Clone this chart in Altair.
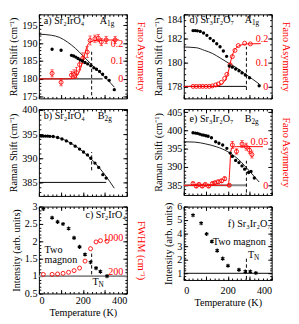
import altair as alt
import pandas as pd

FONT = "Liberation Serif"
RED = "#ff0000"
GRAY = "#8a8a8a"
FS = 10.5
MAJ, MIN = 4, 2
W = 91
STAR = "M0,-1L0,1M-0.866,-0.5L0.866,0.5M-0.866,0.5L0.866,-0.5"

X_MAJOR = [0, 100, 200, 300, 400]
X_MINOR = list(range(0, 401, 20))

# ---------------- data ----------------
# a) Sr2IrO4 A1g
a_T = [60, 101, 148, 158, 168, 178, 188, 198, 210, 222, 236, 250, 262, 276, 290, 305, 320, 343]
a_R = [188.3, 188.0, 186.6, 186.4, 186.1, 185.7, 185.3, 185.0, 184.6, 184.2, 183.7, 183.1, 182.7, 182.1, 181.3, 180.4, 179.6, 177.0]
a_fitT = [0, 57, 94, 130, 167, 203, 240, 277, 313, 343]
a_fitR = [192.5, 192.2, 191.6, 190.3, 188.5, 186.3, 184.0, 181.8, 179.7, 177.7]
a_qT = [60, 101, 148, 160, 171, 185, 200, 220, 233, 255, 270, 284, 306, 347]
a_q = [0.031, -0.019, 0.021, 0.026, 0.035, 0.08, 0.116, 0.15, 0.215, 0.225, 0.228, 0.206, 0.218, 0.218]
a_qerr = [0.02, 0.02, 0.02, 0.025, 0.03, 0.03, 0.03, 0.03, 0.025, 0.02, 0.02, 0.02, 0.02, 0.02]
a_qfitT = [0, 130, 160, 180, 190, 200, 210, 220, 232, 250, 280, 365]
a_qfit = [0, 0, 0.005, 0.03, 0.06, 0.1, 0.145, 0.185, 0.205, 0.213, 0.217, 0.218]

# b) Sr2IrO4 B2g
b_T = [10, 20, 30, 40, 50, 65, 85, 105, 125, 145, 165, 185, 203, 221, 236, 255, 272, 291, 306]
b_R = [394.6, 394.6, 394.6, 394.6, 394.55, 394.5, 394.3, 394.0, 393.6, 393.1, 392.5, 391.9, 391.3, 390.7, 390.0, 389.0, 388.1, 386.6, 385.9]
b_fitT = [0, 50, 100, 150, 200, 250, 300, 343]
b_fitR = [394.6, 394.55, 394.1, 393.0, 391.4, 389.3, 386.6, 383.8]

# c) Sr2IrO4 two magnon
c_T = [20, 60, 85, 110, 135, 160, 185, 210, 235, 260, 280, 310]
c_I = [2.93, 2.68, 2.56, 2.50, 2.37, 2.10, 1.84, 1.62, 1.40, 1.23, 1.13, 1.00]
c_W = [125, 125, 135, 150, 175, 215, 275, 440, 735, 895, 925, 910]

# d) Sr3Ir2O7 A1g
d_T = [42, 52, 62, 75, 90, 105, 120, 135, 150, 165, 180, 195, 207, 221, 236, 251, 265, 280, 299, 343]
d_R = [182.65, 182.65, 182.63, 182.58, 182.45, 182.25, 182.0, 181.8, 181.55, 181.3, 180.95, 180.5, 179.7, 179.6, 179.45, 179.3, 179.12, 178.95, 178.72, 178.05]
d_fitT = [0, 57, 94, 130, 167, 203, 240, 277, 313, 343]
d_fitR = [181.28, 181.22, 181.0, 180.75, 180.35, 179.95, 179.55, 179.07, 178.6, 178.2]
d_qT = [42, 57, 72, 86, 101, 116, 130, 145, 157, 171, 186, 196, 211, 221, 233, 248, 277, 303]
d_q = [0, 0, 0, 0, 0, 0, 0.002, 0.006, 0.01, 0.017, 0.033, 0.05, 0.09, 0.124, 0.15, 0.17, 0.18, 0.177]
d_qfitT = [0, 140, 160, 180, 195, 205, 215, 225, 240, 260, 290, 350]
d_qfit = [0, 0, 0.004, 0.015, 0.04, 0.07, 0.11, 0.14, 0.162, 0.172, 0.177, 0.178]

# e) Sr3Ir2O7 B2g
e_T = [42, 53, 62, 72, 82, 91, 101, 111, 126, 145, 160, 177, 196, 211, 221, 236, 251, 265, 277, 295, 306, 321]
e_R = [399.35, 399.27, 399.2, 399.0, 398.8, 398.7, 398.55, 398.4, 398.0, 396.9, 396.5, 396.0, 395.1, 393.8, 392.9, 391.8, 391.2, 390.3, 389.4, 388.5, 388.8, 387.0]
e_fitT = [0, 50, 100, 150, 200, 250, 300, 343]
e_fitR = [396.9, 396.8, 396.3, 395.5, 394.2, 392.0, 388.8, 385.9]
e_qT = [42, 57, 69, 84, 98, 113, 130, 142, 157, 172, 186, 207, 221, 240, 265, 284, 299, 310]
e_q = [0.002, -0.001, 0.001, -0.001, 0.001, -0.001, 0.002, 0.003, 0.004, 0.005, 0.0075, 0.0, 0.046, 0.0385, 0.047, 0.044, 0.040, 0.035]
e_qerr = [0.0015, 0.0015, 0.0015, 0.0015, 0.0015, 0.0015, 0.0015, 0.0015, 0.002, 0.002, 0.002, 0.0015, 0.004, 0.003, 0.004, 0.004, 0.004, 0.004]
e_qfitT = [0, 200, 206, 210, 214, 220, 240, 360]
e_qfit = [0, 0, 0.006, 0.022, 0.038, 0.043, 0.044, 0.044]

# f) Sr3Ir2O7 two magnon
f_T = [42, 79, 104, 128, 152, 177, 201, 251, 280, 303, 328]
f_I = [5.35, 4.75, 3.95, 3.38, 2.7, 2.1, 1.57, 1.26, 1.13, 1.13, 1.02]

TN_214 = 240
TN_327 = 285

# axis domains
A_DOM = [174.55, 198.05]
A_QDOM = [(A_DOM[0] - 180) / 50, (A_DOM[1] - 180) / 50]
B_DOM = [382.2, 400.2]
C_DOM = [0.5, 3.0]
C_WDOM = [200 + (C_DOM[0] - 1.14) * 824.7, 200 + (C_DOM[1] - 1.14) * 824.7]
D_DOM = [177.0, 184.0]
D_QDOM = [(D_DOM[0] - 178) / 20, (D_DOM[1] - 178) / 20]
E_DOM = [382.35, 405.85]
E_QDOM = [(E_DOM[0] - 385) / 240, (E_DOM[1] - 385) / 240]
F_DOM = [0.5, 6.0]

RAMAN = "Raman Shift (cm⁻¹)"
INTENS = "Intensity (arb. units)"


# ---------------- helpers ----------------
def S(dom):
    return alt.Scale(domain=dom, nice=False, zero=False)


XS = S([0, 400])
TICK = dict(domain=False, grid=False, tickColor="black", tickWidth=1)


def X():
    return alt.X("T:Q", scale=XS, axis=None)


def Yf(field, dom):
    return alt.Y(f"{field}:Q", scale=S(dom), axis=None)


def frame(ydom, ymaj, ymin, ytitle, xlabels=False, xpad=2, yflush=False):
    dummy = pd.DataFrame({"x": [0.0], "y": [float(ydom[0])]})
    base = alt.Chart(dummy).mark_point(opacity=0)
    ys = S(ydom)
    if xlabels:
        xa = alt.Axis(orient="bottom", values=X_MAJOR, offset=-MAJ, tickSize=MAJ,
                      labelPadding=xpad, title="Temperature (K)", titlePadding=2, **TICK)
    else:
        xa = alt.Axis(orient="bottom", values=X_MAJOR, offset=-MAJ, tickSize=MAJ,
                      labels=False, title=None, **TICK)
    ykw = dict(orient="left", values=ymaj, offset=-MAJ, tickSize=MAJ, labelPadding=2,
               format="~g", title=ytitle, titlePadding=3, **TICK)
    if yflush:
        ykw["labelFlush"] = 1
    l1 = base.encode(x=alt.X("x:Q", scale=XS, axis=xa),
                     y=alt.Y("y:Q", scale=ys, axis=alt.Axis(**ykw)))
    l2 = base.encode(
        x=alt.X("x:Q", scale=XS, axis=alt.Axis(orient="bottom", values=X_MINOR, offset=-MIN,
                                               tickSize=MIN, labels=False, title=None, **TICK)),
        y=alt.Y("y:Q", scale=ys, axis=alt.Axis(orient="left", values=ymin, offset=-MIN,
                                               tickSize=MIN, labels=False, title=None, **TICK)))
    l3 = base.encode(
        x=alt.X("x:Q", scale=XS, axis=alt.Axis(orient="top", values=X_MAJOR, offset=-MAJ,
                                               tickSize=MAJ, labels=False, title=None, **TICK)),
        y=alt.Y("y:Q", scale=ys, axis=alt.Axis(orient="right", values=ymaj, offset=-MAJ,
                                               tickSize=MAJ, labels=False, title=None, **TICK)))
    l4 = base.encode(
        x=alt.X("x:Q", scale=XS, axis=alt.Axis(orient="top", values=X_MINOR, offset=-MIN,
                                               tickSize=MIN, labels=False, title=None, **TICK)),
        y=alt.Y("y:Q", scale=ys, axis=alt.Axis(orient="right", values=ymin, offset=-MIN,
                                               tickSize=MIN, labels=False, title=None, **TICK)))
    return [l1, l2, l3, l4]


def dots(T, V, dom):
    return alt.Chart(pd.DataFrame({"T": T, "V": V})).mark_circle(
        color="black", size=12, opacity=1).encode(x=X(), y=Yf("V", dom))


def stars(T, V, dom):
    return alt.Chart(pd.DataFrame({"T": T, "V": V})).mark_point(
        shape=STAR, filled=False, color="black", strokeWidth=1.2, size=18, opacity=1
    ).encode(x=X(), y=Yf("V", dom))


def curve(T, V, dom, color="black", width=0.9):
    return alt.Chart(pd.DataFrame({"T": T, "V": V})).mark_line(
        color=color, strokeWidth=width, interpolate="monotone").encode(x=X(), y=Yf("V", dom))


def hline(v, t0, t1, dom, color="black", width=1.0):
    return alt.Chart(pd.DataFrame({"T": [t0], "T2": [t1], "V": [v]})).mark_rule(
        color=color, strokeWidth=width).encode(x=X(), x2="T2:Q", y=Yf("V", dom))


def vdash(t, v0, v1, dom):
    return alt.Chart(pd.DataFrame({"T": [t], "V": [v0], "V2": [v1]})).mark_rule(
        color="black", strokeWidth=1, strokeDash=[3.5, 2.5]).encode(x=X(), y=Yf("V", dom), y2="V2:Q")


def red_axis(vals, title, fmt="~g"):
    return alt.Axis(orient="right", values=vals, format=fmt, ticks=False, domain=False,
                    grid=False, labelAlign="right", labelPadding=-4, labelColor=RED,
                    title=title, titleColor=RED, titlePadding=9)


def red_pts(T, V, dom, axis):
    return alt.Chart(pd.DataFrame({"T": T, "V": V})).mark_point(
        shape="circle", filled=False, color=RED, size=17, strokeWidth=0.9, opacity=1
    ).encode(x=X(), y=alt.Y("V:Q", scale=S(dom), axis=axis))


def red_err(T, V, E, dom):
    df = pd.DataFrame({"T": T,
                       "lo": [v - e for v, e in zip(V, E)],
                       "hi": [v + e for v, e in zip(V, E)]})
    bar = alt.Chart(df).mark_rule(color=RED, strokeWidth=0.8).encode(
        x=X(), y=Yf("lo", dom), y2="hi:Q")
    caps = alt.Chart(df).transform_fold(["lo", "hi"], as_=["k", "V"]).mark_tick(
        orient="horizontal", color=RED, size=3.5, thickness=0.8).encode(x=X(), y=Yf("V", dom))
    return [bar, caps]


def txt(T, V, s, dom, align="left", color="black", size=FS, dx=0, dy=0):
    return alt.Chart(pd.DataFrame({"T": [T], "V": [V], "s": [s]})).mark_text(
        align=align, baseline="middle", font=FONT, fontSize=size, color=color, dx=dx, dy=dy
    ).encode(x=X(), y=Yf("V", dom), text="s:N")


def sub_label(T, V, main, sub, dom, dxs):
    return [txt(T, V, main, dom), txt(T, V, sub, dom, size=7.5, dx=dxs, dy=3)]


def panel(ydom, ymaj, ymin, ytitle, height, layers, xlabels=False, xpad=2, yflush=False):
    flat = []
    for l in layers:
        if isinstance(l, list):
            flat.extend(l)
        else:
            flat.append(l)
    return alt.layer(*frame(ydom, ymaj, ymin, ytitle, xlabels, xpad, yflush), *flat).resolve_scale(
        y="independent").resolve_axis(x="independent", y="independent").properties(width=W, height=height)


# ---------------- panels ----------------
pa = panel(A_DOM, [175, 180, 185, 190, 195], list(range(175, 199)), RAMAN, 87, [
    hline(180, 0, 290, A_DOM),
    vdash(TN_214, 175.4, 187.6, A_DOM),
    curve(a_fitT, a_fitR, A_DOM),
    curve(a_qfitT, a_qfit, A_QDOM, RED, 1.0),
    red_err(a_qT, a_q, a_qerr, A_QDOM),
    red_pts(a_qT, a_q, A_QDOM, red_axis([0, 0.1, 0.2], "Fano Asymmetry")),
    dots(a_T, a_R, A_DOM),
    txt(22, 196.2, "a) Sr₂IrO₄", A_DOM),
    sub_label(277, 196.2, "A", "1g", A_DOM, 7.6),
])

pb = panel(B_DOM, [385, 390, 395, 400], list(range(383, 401)), RAMAN, 90, [
    hline(385, 0, 306, B_DOM),
    vdash(TN_214, 387.5, 391.3, B_DOM),
    curve(b_fitT, b_fitR, B_DOM),
    dots(b_T, b_R, B_DOM),
    txt(22, 398.8, "b) Sr₂IrO₄", B_DOM),
    sub_label(268, 398.8, "B", "2g", B_DOM, 7.0),
])

pc = panel(C_DOM, [0.5, 1, 1.5, 2, 2.5, 3], [round(0.5 + 0.1 * i, 2) for i in range(26)], INTENS, 90, [
    hline(1, 0, 400, C_DOM, GRAY, 2.0),
    vdash(TN_214, 1.05, 1.72, C_DOM),
    red_pts(c_T, c_W, C_WDOM, red_axis([200, 1000], "FWHM (cm⁻¹)", "d")),
    stars(c_T, c_I, C_DOM),
    txt(396, 2.75, "c) Sr₂IrO₄", C_DOM, align="right"),
    txt(26, 1.75, "Two", C_DOM),
    txt(26, 1.47, "magnon", C_DOM),
    sub_label(244, 0.84, "T", "N", C_DOM, 6.2),
], xlabels=True, xpad=2)

pd_ = panel(D_DOM, [178, 180, 182, 184], [177 + 0.5 * i for i in range(15)], RAMAN, 87, [
    hline(178, 0, TN_327, D_DOM),
    vdash(TN_327, 177.7, 181.3, D_DOM),
    curve(d_fitT, d_fitR, D_DOM),
    curve(d_qfitT, d_qfit, D_QDOM, RED, 1.0),
    red_pts(d_qT, d_q, D_QDOM, red_axis([0, 0.1, 0.2], "Fano Asymmetry")),
    dots(d_T, d_R, D_DOM),
    txt(26, 183.55, "d) Sr₃Ir₂O₇", D_DOM),
    sub_label(277, 183.55, "A", "1g", D_DOM, 7.6),
], yflush=True)

pe = panel(E_DOM, [385, 390, 395, 400, 405], list(range(383, 406)), RAMAN, 89, [
    hline(385, 0, TN_327, E_DOM, GRAY, 2.0),
    vdash(TN_327, 383.0, 391.7, E_DOM),
    curve(e_fitT, e_fitR, E_DOM),
    curve(e_qfitT, e_qfit, E_QDOM, RED, 1.0),
    red_err(e_qT, e_q, e_qerr, E_QDOM),
    red_pts(e_qT, e_q, E_QDOM, red_axis([0, 0.05], "Fano Asymmetry")),
    dots(e_T, e_R, E_DOM),
    txt(26, 403.2, "e) Sr₃Ir₂O₇", E_DOM),
    sub_label(277, 403.2, "B", "2g", E_DOM, 7.0),
])

pf = panel(F_DOM, [1, 2, 3, 4, 5, 6], [round(0.6 + 0.2 * i, 1) for i in range(28)], INTENS, 76, [
    hline(1, 0, 400, F_DOM),
    vdash(TN_327, 0.55, 2.1, F_DOM),
    stars(f_T, f_I, F_DOM),
    txt(396, 4.7, "f) Sr₃Ir₂O₇", F_DOM, align="right"),
    txt(132, 3.35, "Two magnon", F_DOM),
    sub_label(292, 2.35, "T", "N", F_DOM, 6.2),
], xlabels=True, xpad=6)

chart = alt.concat(
    pa, pd_, pb, pe, pc, pf, columns=2,
    spacing={"row": 11, "column": 59}, bounds="flush"
).properties(
    padding={"left": 0, "top": 0, "right": 0, "bottom": 0}
).configure(
    background="white"
).configure_view(
    stroke="black", strokeWidth=1
).configure_axis(
    labelFont=FONT, titleFont=FONT, labelFontSize=FS, titleFontSize=FS,
    titleFontWeight="normal", labelColor="black", titleColor="black", minExtent=0
).configure_text(font=FONT)

chart.save("out.html", embed_options={"renderer": "svg", "actions": False})
